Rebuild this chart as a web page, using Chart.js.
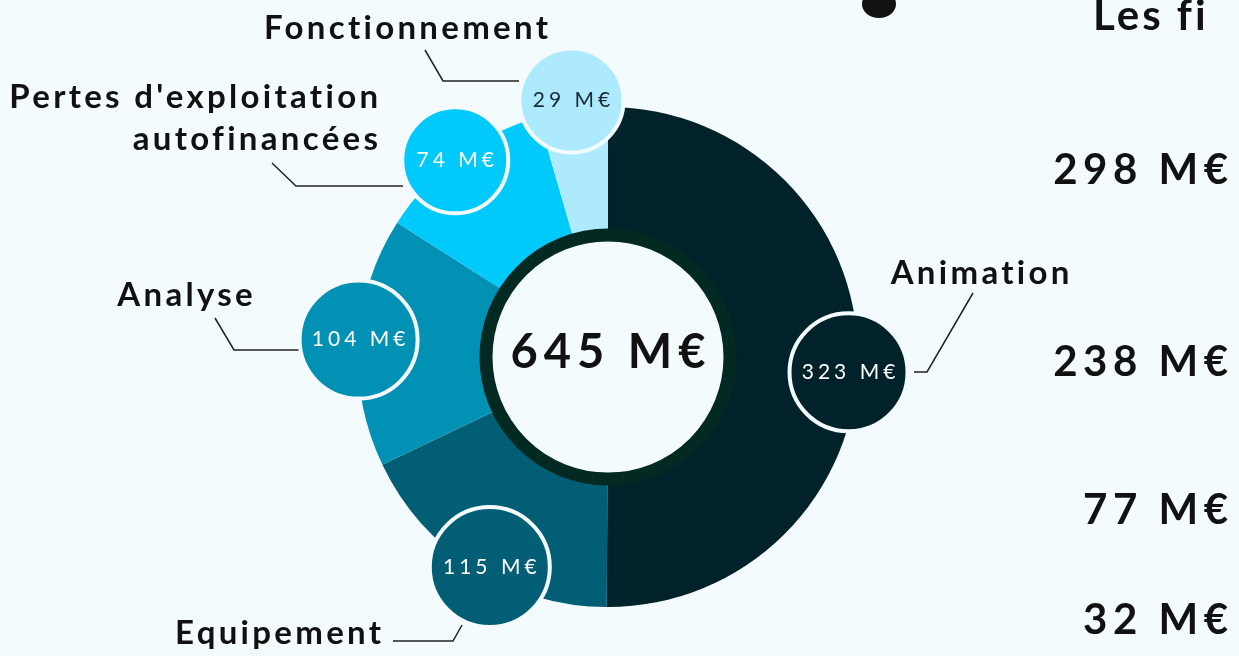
<!DOCTYPE html>
<html>
<head>
<meta charset="utf-8">
<script src="https://cdn.jsdelivr.net/npm/chart.js@4/dist/chart.umd.min.js"></script>
<style>
  html, body { margin: 0; padding: 0; background: #f3fbff; overflow: hidden; }
  #wrap { position: relative; width: 1239px; height: 656px; }
  canvas { position: absolute; left: 0; top: 0; }
</style>
</head>
<body>
<div id="wrap">
  <canvas id="chart" width="1239" height="656"></canvas>
</div>
<script>
const categories = ["Animation", "Equipement", "Analyse", "Pertes d'exploitation\nautofinancées", "Fonctionnement"];
const values = [323, 115, 104, 74, 29];
const colors = ["#02222b", "#015e74", "#0091b4", "#00c9fb", "#adeafd"];
const valueTextColors = ["#ffffff", "#ffffff", "#ffffff", "#ffffff", "#1a2a33"];
const totalLabel = "645 M€";
const sideTitle = "Les f\u200Ci";
const sideValues = ["298 M€", "238 M€", "77 M€", "32 M€"];

const FONT = '"Comic Sans MS", "Lato", sans-serif';

// bubble layout : distance from centre, radius, tweak of angle (deg)
const bubbles = [
  { dist: 241, r: 59, da: 3.5 },
  { dist: 241, r: 60, da: -3 },
  { dist: 250, r: 59, da: 0.5 },
  { dist: 249, r: 53, da: -1 },
  { dist: 259, r: 52, da: 0 },
];
// leader lines : points from bubble edge to label, then label position
const leaders = [
  { pts: [[914, 372], [927, 372], [973, 293]], lx: 980, ly: 273, align: "center" },
  { pts: [[462, 625], [453, 641], [393, 641]], lx: 278, ly: 633, align: "center" },
  { pts: [[300, 350], [234, 350], [215, 318]], lx: 185, ly: 295, align: "center" },
  { pts: [[403, 186], [296, 186], [272, 163]], lx: 378, ly: 97, align: "right" },
  { pts: [[519, 81], [443, 81], [425, 50]], lx: 406, ly: 28, align: "center" },
];

function spacedText(ctx, text, x, y, spacing) {
  ctx.letterSpacing = spacing + "px";
  let dx = 0;
  if (ctx.textAlign === "center") dx = spacing / 2;
  if (ctx.textAlign === "right") dx = spacing;
  ctx.fillText(text, x + dx, y);
  ctx.letterSpacing = "0px";
}

const overlay = {
  id: "overlay",
  afterDatasetsDraw(chart) {
    const ctx = chart.ctx;
    const arcs = chart.getDatasetMeta(0).data;
    const cx = arcs[0].x, cy = arcs[0].y;
    // centre disc
    ctx.save();
    ctx.beginPath();
    ctx.arc(cx, cy, 122, 0, Math.PI * 2);
    ctx.fillStyle = "#f3fbff";
    ctx.fill();
    ctx.lineWidth = 13;
    ctx.strokeStyle = "#032a22";
    ctx.stroke();
    ctx.fillStyle = "#111";
    ctx.font = "bold 47px " + FONT;
    ctx.textAlign = "center";
    ctx.textBaseline = "middle";
    spacedText(ctx, totalLabel, cx, cy - 4, 6);

    // leader lines and labels
    leaders.forEach((l, i) => {
      ctx.beginPath();
      ctx.moveTo(l.pts[0][0], l.pts[0][1]);
      l.pts.slice(1).forEach(p => ctx.lineTo(p[0], p[1]));
      ctx.lineWidth = 1.5;
      ctx.strokeStyle = "#222";
      ctx.stroke();
      ctx.fillStyle = "#111";
      ctx.font = "bold 33px " + FONT;
      ctx.textAlign = l.align;
      const lines = categories[i].split("\n");
      lines.forEach((t, k) => spacedText(ctx, t, l.lx, l.ly + k * 42, 3.3));
    });

    // value bubbles
    arcs.forEach((arc, i) => {
      const b = bubbles[i];
      const mid = (arc.startAngle + arc.endAngle) / 2 + b.da * Math.PI / 180;
      const x = cx + Math.cos(mid) * b.dist;
      const y = cy + Math.sin(mid) * b.dist;
      ctx.beginPath();
      ctx.arc(x, y, b.r, 0, Math.PI * 2);
      ctx.fillStyle = colors[i];
      ctx.fill();
      ctx.lineWidth = 4;
      ctx.strokeStyle = "#f3fbff";
      ctx.stroke();
      ctx.fillStyle = valueTextColors[i];
      ctx.font = "21px " + FONT;
      ctx.textAlign = "center";
      ctx.textBaseline = "middle";
      spacedText(ctx, values[i] + " M€", x, y, 4);
    });

    // right column
    ctx.fillStyle = "#111";
    ctx.font = "bold 42px " + FONT;
    ctx.textAlign = "left";
    spacedText(ctx, sideTitle, 1093, 16, 3);
    ctx.beginPath();
    ctx.ellipse(879, 4, 17, 14, 0, 0, Math.PI * 2);
    ctx.fill();
    ctx.textAlign = "right";
    const ys = [170, 362, 510, 620];
    sideValues.forEach((t, k) => spacedText(ctx, t, 1228, ys[k], 5.5));
    ctx.restore();
  }
};

new Chart(document.getElementById("chart"), {
  type: "doughnut",
  data: {
    labels: categories,
    datasets: [{
      data: values,
      backgroundColor: colors,
      borderWidth: 0,
    }],
  },
  options: {
    responsive: false,
    animation: false,
    cutout: "40%",
    layout: { padding: { left: 0, right: 23, top: 107, bottom: 49 } },
    plugins: { legend: { display: false }, tooltip: { enabled: false } },
  },
  plugins: [overlay],
});
</script>
</body>
</html>
